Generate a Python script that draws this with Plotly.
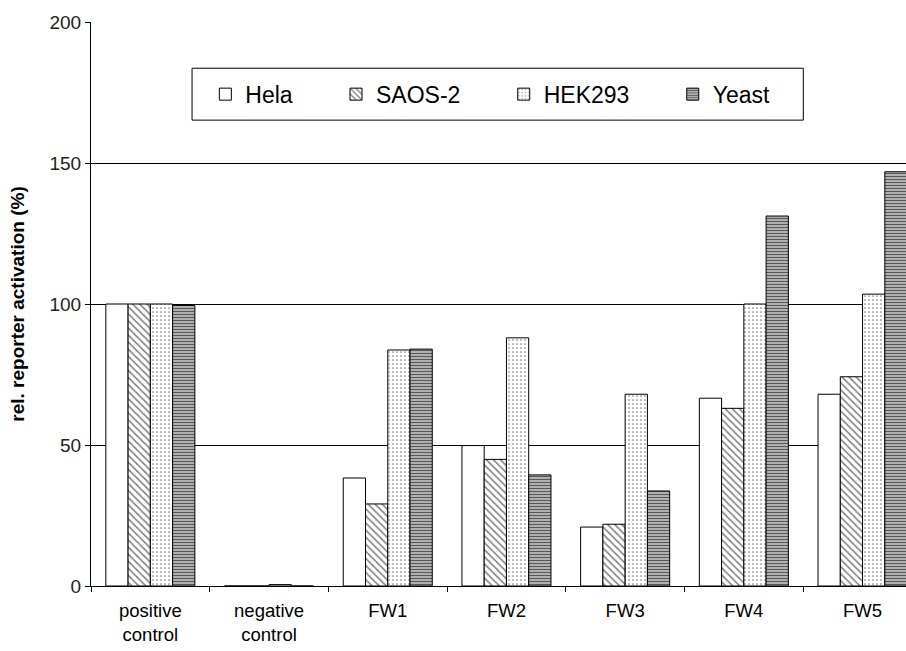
import plotly.graph_objects as go

# Groups along the x axis
categories = ["positive<br>control", "negative<br>control", "FW1", "FW2", "FW3", "FW4", "FW5"]

# Relative reporter activation (%) per cell line
hela = [100, 0, 38.3, 49.8, 20.9, 66.6, 68.0]
saos2 = [100, 0, 29.1, 44.9, 21.9, 63.0, 74.2]
hek293 = [100, 0.5, 83.7, 88.0, 68.0, 100.0, 103.5]
yeast = [99.5, 0, 84.0, 39.4, 33.7, 131.2, 146.9]

y_ticks = [0, 50, 100, 150, 200]
grid_values = [50, 100, 150]

FONT = "Arial, Liberation Sans, sans-serif"
line = dict(color="black", width=1)
PAD = "\u00a0" * 6  # spacing between legend entries

fig = go.Figure()
fig.add_trace(go.Bar(name="Hela" + PAD, x=categories, y=hela,
                     marker=dict(color="white", line=line)))
fig.add_trace(go.Bar(name="SAOS-2" + PAD, x=categories, y=saos2,
                     marker=dict(color="white", line=line,
                                 pattern=dict(shape="\\", fgcolor="black", bgcolor="white",
                                              size=5, solidity=0.3))))
fig.add_trace(go.Bar(name="HEK293" + PAD, x=categories, y=hek293,
                     marker=dict(color="white", line=line,
                                 pattern=dict(shape=".", fgcolor="black", bgcolor="white",
                                              size=4, solidity=0.14))))
fig.add_trace(go.Bar(name="Yeast", x=categories, y=yeast,
                     marker=dict(color="#9a9a9a", line=line,
                                 pattern=dict(shape="-", fgcolor="black", bgcolor="#b0b0b0",
                                              size=3, solidity=0.35))))

fig.update_layout(
    width=906, height=651,
    margin=dict(l=91, r=0, t=22, b=65),
    paper_bgcolor="white", plot_bgcolor="white",
    barmode="group", bargap=0.25, bargroupgap=0,
    font=dict(family=FONT, color="black"),
    xaxis=dict(type="category", range=[-0.5, 6.366],
               showline=True, linecolor="black", linewidth=1,
               ticks="outside", tickson="boundaries", ticklen=5, tickcolor="black",
               showgrid=False, tickfont=dict(size=18.5), ticklabelstandoff=8),
    yaxis=dict(range=[0, 200], tickvals=y_ticks, showgrid=False, zeroline=False,
               showline=True, linecolor="black", linewidth=1,
               ticks="outside", ticklen=5, tickcolor="black",
               tickfont=dict(size=19, color="#222"),
               title=dict(text="<b>rel. reporter activation (%)</b>",
                          font=dict(size=19), standoff=19)),
    # horizontal reference lines at 50, 100, 150
    yaxis2=dict(range=[0, 200], overlaying="y", anchor="x", tickvals=grid_values,
                showgrid=True, gridcolor="black", gridwidth=1, zeroline=False,
                showticklabels=False, ticks="", showline=False),
    # short inner ticks on the value axis
    yaxis3=dict(range=[0, 200], overlaying="y", anchor="x", side="left", tickvals=y_ticks,
                showgrid=False, zeroline=False, showticklabels=False,
                ticks="inside", ticklen=5, tickcolor="black", showline=False),
    legend=dict(orientation="h", x=0.49, y=0.872, xanchor="center", yanchor="middle",
                borderwidth=0, bgcolor="rgba(0,0,0,0)",
                font=dict(size=23, family=FONT), itemclick=False),
    showlegend=True,
    # frame around the legend
    shapes=[dict(type="rect", xref="paper", yref="paper",
                 x0=0.124, x1=0.874, y0=0.826, y1=0.918,
                 line=dict(color="black", width=1), fillcolor="white", layer="above")],
)

# invisible helpers so the overlay axes get drawn
fig.add_trace(go.Scatter(x=[categories[0]], y=[None], yaxis="y2", showlegend=False,
                         hoverinfo="skip", mode="markers"))
fig.add_trace(go.Scatter(x=[categories[0]], y=[None], yaxis="y3", showlegend=False,
                         hoverinfo="skip", mode="markers"))

fig.write_html("out.html")
